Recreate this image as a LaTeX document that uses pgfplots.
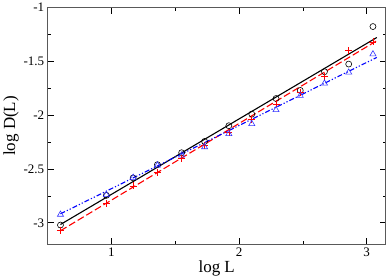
\documentclass[border=0pt]{standalone}
\usepackage{fontspec}
\setmainfont{Liberation Serif}
\usepackage{pgfplots}
\pgfplotsset{compat=1.18}
\begin{document}
\begin{tikzpicture}
\begin{axis}[
  scale only axis,
  width=337bp, height=236bp,
  xmin=0.5, xmax=3.15, ymin=-3.2, ymax=-1,
  xtick={1,2,3}, minor xtick={1.5,2.5},
  ytick={-3,-2.5,-2,-1.5,-1}, minor ytick={-3.25,-2.75,-2.25,-1.75,-1.25},
  tick align=inside, xtick pos=both, ytick pos=both,
  major tick length=6bp, minor tick length=3bp,
  tick style={black, line width=0.6pt},
  axis line style={line width=0.6pt, gray!70!black},
  /pgf/number format/assume math mode=true,
  ticklabel style={font=\fontsize{13}{13}\selectfont},
  xlabel={log L}, ylabel={log D(L)},
  label style={font=\fontsize{17}{17}\selectfont},
  xlabel style={yshift=3bp},
  ylabel style={yshift=-2bp},
]
% black circles
\addplot[only marks, mark=o, mark size=3bp, black, mark options={line width=0.6pt}] coordinates {
(0.60,-3.021) (0.96,-2.745) (1.17,-2.583) (1.36,-2.460) (1.55,-2.349) (1.73,-2.244)
(1.92,-2.098) (2.10,-1.990) (2.29,-1.845) (2.48,-1.770) (2.67,-1.596) (2.86,-1.525) (3.05,-1.176)};
% red plus
\addplot[only marks, mark=+, mark size=3.5bp, red, mark options={line width=0.6pt}] coordinates {
(0.60,-3.068) (0.96,-2.820) (1.17,-2.657) (1.36,-2.530) (1.55,-2.398) (1.73,-2.280)
(1.92,-2.157) (2.10,-2.040) (2.29,-1.895) (2.48,-1.790) (2.67,-1.642) (2.86,-1.401) (3.05,-1.318)};
% blue triangles
\addplot[only marks, mark=triangle, mark size=3.5bp, blue!80!white, mark options={line width=0.6pt}] coordinates {
(0.60,-2.923) (0.96,-2.740) (1.17,-2.580) (1.36,-2.465) (1.55,-2.373) (1.73,-2.296)
(1.92,-2.173) (2.10,-2.080) (2.29,-1.951) (2.48,-1.818) (2.67,-1.704) (2.86,-1.602) (3.05,-1.432)};
% fits
\addplot[black, line width=1.1pt] coordinates {(0.60,-3.016) (3.08,-1.278)};
\addplot[red, line width=1.1pt, dash pattern=on 7bp off 3bp] coordinates {(0.60,-3.074) (3.08,-1.308)};
\addplot[blue, line width=1.1pt, dash pattern=on 5bp off 2bp on 1.2bp off 2bp on 1.2bp off 2bp] coordinates {(0.60,-2.917) (3.08,-1.463)};
\end{axis}
\end{tikzpicture}
\end{document}
